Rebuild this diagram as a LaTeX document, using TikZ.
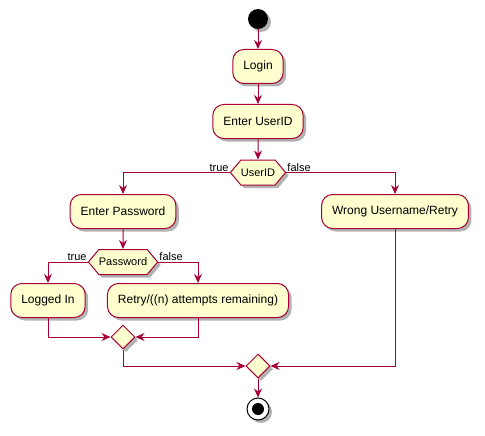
\documentclass[tikz,border=0pt]{standalone}
\usepackage{fontspec}
\setmainfont{Liberation Sans}
\usetikzlibrary{arrows.meta,shapes.geometric,shapes.symbols,shadows}
\definecolor{pfill}{HTML}{FEFECE}
\definecolor{pline}{HTML}{A80036}
\tikzset{
 shad/.style={drop shadow={shadow xshift=3pt,shadow yshift=-3pt,opacity=0.3,fill=black}},
 base/.style={draw=pline, fill=pfill, line width=1pt, shad},
 act/.style={base, rounded corners=11pt, inner xsep=10.5pt, minimum height=34pt, font=\fontsize{12}{14}\selectfont},
 hexa/.style={base, signal, signal to=west and east, signal pointer angle=100, minimum height=25pt, inner xsep=0pt, font=\fontsize{11}{13}\selectfont},
 merge/.style={base, diamond, minimum width=24pt, minimum height=24pt, inner sep=0pt},
 flow/.style={draw=pline, line width=1pt, -{Stealth[length=9pt,width=8pt,inset=3pt]}},
 lbl/.style={font=\fontsize{11}{13}\selectfont, inner sep=1pt},
}
\begin{document}
\begin{tikzpicture}[x=1pt,y=-1pt]
\useasboundingbox (0,0) rectangle (485,436);
\node[circle, fill=black, minimum size=20pt, inner sep=0pt, shad] (start) at (258,19) {};
\node[act] (login) at (258,66.5) {Login};
\node[act] (euid) at (258,121.5) {Enter UserID};
\node[hexa] (uid) at (258,172.5) {UserID};
\node[act] (epw) at (123,211.5) {Enter Password};
\node[act] (wrong) at (395,211.5) {Wrong Username/Retry};
\node[hexa] (pwd) at (123,262) {Password};
\node[act] (logged) at (48,300.5) {Logged In};
\node[act] (retry) at (198,300.5) {Retry/((n) attempts remaining)};
\node[merge] (m1) at (123,337) {};
\node[merge] (m2) at (258,366) {};
\node[circle, draw=black, fill=white, line width=1pt, minimum size=22pt, inner sep=0pt, shad] (stop) at (258,409) {};
\node[circle, fill=black, minimum size=12pt, inner sep=0pt] (stopdot) at (stop.center) {};
\draw[flow] (start) -- (login);
\draw[flow] (login) -- (euid);
\draw[flow] (euid) -- (uid);
\draw[flow] (uid.west) -| (epw.north);
\draw[flow] (uid.east) -| (wrong.north);
\node[lbl, anchor=south east] (ltrue1) at (uid.west) {true};
\node[lbl, anchor=south west] (lfalse1) at (uid.east) {false};
\draw[flow] (epw) -- (pwd);
\draw[flow] (pwd.west) -| (logged.north);
\draw[flow] (pwd.east) -| (retry.north);
\node[lbl, anchor=south east] (ltrue2) at (pwd.west) {true};
\node[lbl, anchor=south west] (lfalse2) at (pwd.east) {false};
\draw[flow] (logged.south) |- (m1.west);
\draw[flow] (retry.south) |- (m1.east);
\draw[flow] (m1.south) |- (m2.west);
\draw[flow] (wrong.south) |- (m2.east);
\draw[flow] (m2) -- (stop);
\end{tikzpicture}
\end{document}
